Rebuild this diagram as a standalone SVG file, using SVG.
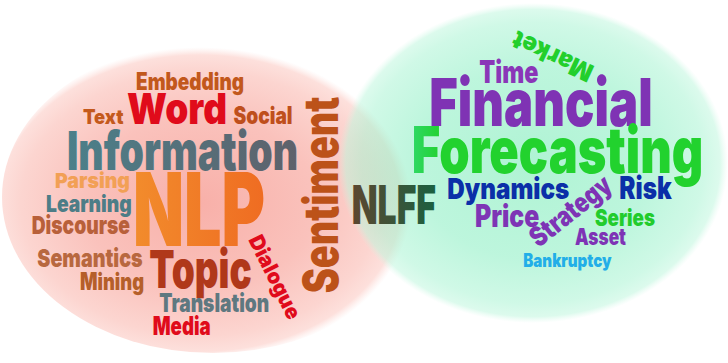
<svg xmlns="http://www.w3.org/2000/svg" width="728" height="363" viewBox="0 0 728 363">
<defs>
<radialGradient id="gPink" cx="0.47" cy="0.52" r="0.5">
<stop offset="0" stop-color="#f8b0a9"/>
<stop offset="0.55" stop-color="#fac2bc"/>
<stop offset="0.85" stop-color="#fcd5d0"/>
<stop offset="0.95" stop-color="#fde0dc"/>
<stop offset="1" stop-color="#fde8e5" stop-opacity="0"/>
</radialGradient>
<radialGradient id="gGreen" cx="0.5" cy="0.5" r="0.5">
<stop offset="0" stop-color="#66e8ac"/>
<stop offset="0.6" stop-color="#80edbd"/>
<stop offset="0.88" stop-color="#a4f3d0"/>
<stop offset="0.96" stop-color="#bcf6dc"/>
<stop offset="1" stop-color="#cff8e6" stop-opacity="0"/>
</radialGradient>
<linearGradient id="gInfo" x1="0" y1="0" x2="1" y2="0">
<stop offset="0" stop-color="#4b808a"/>
<stop offset="1" stop-color="#5f616b"/>
</linearGradient>
<linearGradient id="gNLP" x1="0" y1="0" x2="1" y2="0">
<stop offset="0" stop-color="#f28c2c"/>
<stop offset="1" stop-color="#ef6c22"/>
</linearGradient>
<linearGradient id="gNLFF" x1="0" y1="0" x2="1" y2="0">
<stop offset="0" stop-color="#5c4630"/>
<stop offset="1" stop-color="#1b6140"/>
</linearGradient>
<linearGradient id="gFore" x1="0" y1="0" x2="1" y2="0">
<stop offset="0" stop-color="#2fd866"/>
<stop offset="0.1" stop-color="#22d22e"/>
<stop offset="1" stop-color="#22d22e"/>
</linearGradient>
</defs>
<style>
.w{font-family:Inter,Roboto,"DejaVu Sans","Liberation Sans",sans-serif;font-weight:900}
</style>
<rect width="728" height="363" fill="#ffffff"/>
<ellipse id="circle-nlp" cx="213" cy="197" rx="211" ry="156" fill="url(#gPink)"/>
<ellipse id="circle-ff" cx="533" cy="163" rx="195" ry="160" fill="url(#gGreen)" opacity="0.52"/>

<g id="word-embedding"><text class="w" x="136" y="90" font-size="23.8" textLength="108" lengthAdjust="spacingAndGlyphs" fill="#c2581c">Embedding</text></g>
<g id="word-word"><text class="w" x="127" y="124" font-size="43" textLength="100" lengthAdjust="spacingAndGlyphs" fill="#e00b1b">Word</text></g>
<g id="word-text"><text class="w" x="83" y="124" font-size="20.2" textLength="40.5" lengthAdjust="spacingAndGlyphs" fill="#c4591c">Text</text></g>
<g id="word-social"><text class="w" x="233.5" y="124" font-size="23.8" textLength="59" lengthAdjust="spacingAndGlyphs" fill="#bf4f1c">Social</text></g>
<g id="word-information"><text class="w" x="67" y="169.5" font-size="54" textLength="231" lengthAdjust="spacingAndGlyphs" fill="url(#gInfo)">Information</text></g>
<g id="word-parsing"><text class="w" x="55" y="188.3" font-size="20.6" textLength="75" lengthAdjust="spacingAndGlyphs" fill="#f2a055">Parsing</text></g>
<g id="word-nlp"><text class="w" x="133" y="246" font-size="101.8" textLength="132" lengthAdjust="spacingAndGlyphs" fill="url(#gNLP)">NLP</text></g>
<g id="word-learning"><text class="w" x="46" y="211.7" font-size="23" textLength="85.7" lengthAdjust="spacingAndGlyphs" fill="#4d7d87">Learning</text></g>
<g id="word-discourse"><text class="w" x="31.7" y="234" font-size="24.8" textLength="98.3" lengthAdjust="spacingAndGlyphs" fill="#b8603a">Discourse</text></g>
<g id="word-semantics"><text class="w" x="37.3" y="267.3" font-size="24.8" textLength="105.3" lengthAdjust="spacingAndGlyphs" fill="#b8683f">Semantics</text></g>
<g id="word-mining"><text class="w" x="80" y="290" font-size="23.8" textLength="64" lengthAdjust="spacingAndGlyphs" fill="#b55f2a">Mining</text></g>
<g id="word-topic"><text class="w" x="149.3" y="288.3" font-size="52.3" textLength="102.5" lengthAdjust="spacingAndGlyphs" fill="#b0381a">Topic</text></g>
<g id="word-translation"><text class="w" x="159.3" y="311.7" font-size="25.2" textLength="110" lengthAdjust="spacingAndGlyphs" fill="#5e7880">Translation</text></g>
<g id="word-media"><text class="w" x="152.7" y="335" font-size="25.2" textLength="58" lengthAdjust="spacingAndGlyphs" fill="#e00b1b">Media</text></g>
<g id="word-sentiment" transform="translate(338,293.3) rotate(-90)"><text class="w" x="0" y="0" font-size="48" textLength="196.6" lengthAdjust="spacingAndGlyphs" fill="#bc5219">Sentiment</text></g>
<g id="word-dialogue" transform="translate(275,277) rotate(63.5)"><text class="w" x="0" y="7.5" font-size="21.3" text-anchor="middle" textLength="91" lengthAdjust="spacingAndGlyphs" fill="#e00b1b">Dialogue</text></g>

<g id="word-market" transform="translate(552.5,56.5) rotate(205)"><text class="w" x="0" y="9" font-size="24.8" text-anchor="middle" textLength="86" lengthAdjust="spacingAndGlyphs" fill="#22cf2c">Market</text></g>
<g id="word-time"><text class="w" x="479.3" y="83.3" font-size="31.2" textLength="59" lengthAdjust="spacingAndGlyphs" fill="#8a36b8">Time</text></g>
<g id="word-financial"><text class="w" x="429.3" y="126" font-size="65.6" textLength="223.3" lengthAdjust="spacingAndGlyphs" fill="#7f33b4">Financial</text></g>
<g id="word-forecasting"><text class="w" x="411.7" y="173.3" font-size="64.2" textLength="291.7" lengthAdjust="spacingAndGlyphs" fill="url(#gFore)">Forecasting</text></g>
<g id="word-nlff"><text class="w" x="351.7" y="224" font-size="53.6" textLength="84.3" lengthAdjust="spacingAndGlyphs" fill="url(#gNLFF)">NLFF</text></g>
<g id="word-dynamics"><text class="w" x="447.3" y="199.3" font-size="28.9" textLength="122" lengthAdjust="spacingAndGlyphs" fill="#0b2fa8">Dynamics</text></g>
<g id="word-risk"><text class="w" x="619.3" y="199.3" font-size="31.2" textLength="52.3" lengthAdjust="spacingAndGlyphs" fill="#0b2fa8">Risk</text></g>
<g id="word-price"><text class="w" x="475" y="227.3" font-size="30.7" textLength="64.3" lengthAdjust="spacingAndGlyphs" fill="#7e34b5">Price</text></g>
<g id="word-series"><text class="w" x="595" y="226" font-size="23" textLength="60" lengthAdjust="spacingAndGlyphs" fill="#22cc2c">Series</text></g>
<g id="word-asset"><text class="w" x="575" y="245" font-size="23" textLength="51" lengthAdjust="spacingAndGlyphs" fill="#7e34b5">Asset</text></g>
<g id="word-bankruptcy"><text class="w" x="523.3" y="266.7" font-size="18.3" textLength="88.3" lengthAdjust="spacingAndGlyphs" fill="#22aee8">Bankruptcy</text></g>
<g id="word-strategy" transform="translate(572,213) rotate(-38.5)"><text class="w" x="0" y="7" font-size="27.5" text-anchor="middle" textLength="96" lengthAdjust="spacingAndGlyphs" fill="#7e34b5">Strategy</text></g>
</svg>
